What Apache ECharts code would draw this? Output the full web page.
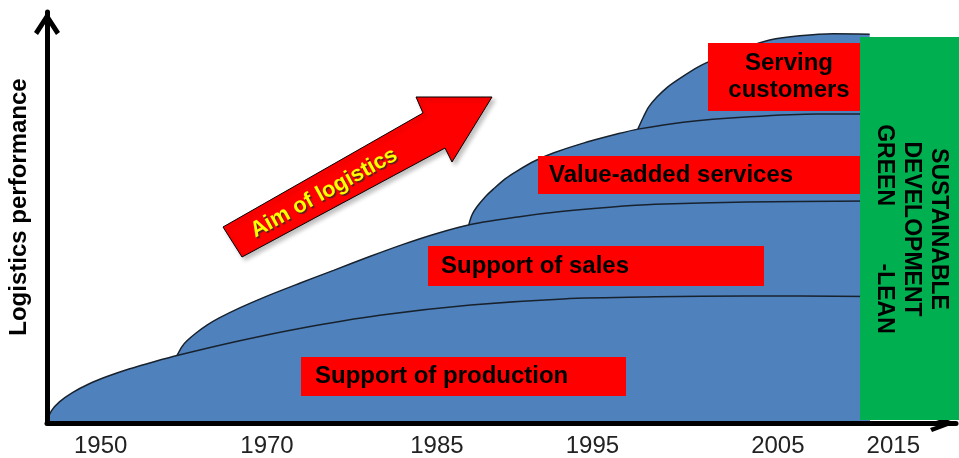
<!DOCTYPE html>
<html>
<head>
<meta charset="utf-8">
<title>Logistics performance</title>
<script src="https://cdn.jsdelivr.net/npm/echarts@6/dist/echarts.min.js"></script>
<style>
  html, body { margin: 0; padding: 0; background: #fff; }
  #chart { width: 959px; height: 458px; }
</style>
</head>
<body>
<div id="chart"></div>
<script>
// x = position on the time axis (0-100), y = logistics performance (0-100)
const productionCurve = [
  [0, 0.5], [0.5, 3.0], [1.4, 5.2], [2.8, 7.4], [4.6, 9.5], [6.6, 11.3], [9.1, 13.2],
  [11.3, 14.6], [14.3, 16.4], [21.2, 20.0], [27.8, 23.0], [36.6, 26.2], [46.6, 28.7],
  [56.8, 30.2], [66.9, 30.7], [77.0, 30.9], [90.5, 30.8]
]
const salesCurve = [
  [14.3, 16.4], [14.85, 18.6], [15.4, 20.0], [16.4, 21.9], [17.6, 23.8], [18.9, 25.5],
  [21.2, 28.0], [24.0, 30.7], [27.8, 34.0], [31.6, 37.2], [35.5, 40.5], [39.1, 43.4],
  [42.7, 46.0], [46.6, 48.3], [52.0, 50.2], [56.8, 51.5], [61.9, 52.5], [66.9, 53.2],
  [77.0, 53.8], [90.5, 54.0]
]
const valueAddedCurve = [
  [46.4, 48.2], [46.75, 50.6], [47.3, 52.6], [48.2, 55.0], [49.1, 56.9], [50.4, 59.4],
  [51.7, 61.3], [53.7, 63.8], [55.7, 65.7], [59.0, 68.1], [62.7, 70.3], [65.0, 71.5],
  [70.0, 73.2], [77.3, 74.5], [84.7, 75.2], [90.5, 75.2]
]
const servingCurve = [
  [65.0, 71.5], [65.3, 73.0], [65.6, 74.4], [66.2, 76.9], [67.1, 79.3], [68.3, 81.8],
  [70.0, 84.4], [71.6, 86.6], [72.7, 87.8], [75.1, 90.0], [77.3, 91.7], [79.5, 93.2],
  [82.8, 94.2], [86.5, 94.7], [90.5, 94.6]
]

const layerNames = ['Support of production', 'Support of sales', 'Value-added services', 'Serving customers']
const yearLabels = ['1950', '1970', '1985', '1995', '2005', '2015']
const yearPositions = [5.9, 24.2, 42.9, 60.0, 80.4, 93.1]

const FONT = '"Liberation Sans", Arial, sans-serif'
const curves = [productionCurve, salesCurve, valueAddedCurve, servingCurve]

// upper layers first so the lower ones never hide their outlines
let series = []
for (let i = curves.length - 1; i >= 0; i--) {
  series.push({
    name: layerNames[i],
    type: 'line',
    data: curves[i],
    smooth: 0.3,
    showSymbol: false,
    silent: true,
    lineStyle: { color: '#18222d', width: 1.5 },
    areaStyle: { color: '#4f81bd', opacity: 1 }
  })
}

function labelBox (x, y, w, h, text, tx, align) {
  return [
    { type: 'rect', z: 100, shape: { x: x, y: y, width: w, height: h }, style: { fill: '#ff0000' } },
    {
      type: 'text', z: 101, x: tx, y: y + h / 2,
      style: {
        text: text, fill: '#000', fontSize: 24, fontWeight: 'bold', fontFamily: FONT,
        align: align, verticalAlign: 'middle', lineHeight: 27
      }
    }
  ]
}

let myChart = echarts.init(document.getElementById('chart'))
myChart.setOption({
  backgroundColor: '#fff',
  animation: false,
  grid: { left: 47, right: 3, top: 12, bottom: 35, outerBoundsMode: 'none' },
  xAxis: {
    type: 'value',
    min: 0,
    max: 100,
    z: 10,
    splitLine: { show: false },
    axisTick: { show: false },
    axisLine: {
      onZero: false,
      lineStyle: { color: '#000', width: 5 },
      symbol: ['none', 'path://M9,0 L18,24 L14,26 L9,11 L4,26 L0,24 Z'],
      symbolSize: [18, 26],
      symbolOffset: [0, -13]
    },
    axisLabel: {
      customValues: yearPositions,
      margin: 11,
      color: '#222',
      fontSize: 24,
      fontFamily: FONT,
      formatter: function (v) {
        let i = yearPositions.indexOf(v)
        return i >= 0 ? yearLabels[i] : ''
      }
    }
  },
  yAxis: {
    type: 'value',
    min: 0,
    max: 100,
    z: 10,
    splitLine: { show: false },
    axisTick: { show: false },
    axisLabel: { show: false },
    axisLine: {
      show: true,
      lineStyle: { color: '#000', width: 5 },
      symbol: ['none', 'path://M13,0 L26,20 L22,23 L13,9 L4,23 L0,20 Z'],
      symbolSize: [26, 23],
      symbolOffset: [0, -11.5]
    }
  },
  series: series,
  graphic: [
    {
      type: 'text', z: 100, x: 19, y: 207, rotation: Math.PI / 2,
      style: {
        text: 'Logistics performance', fill: '#000', fontSize: 24, fontWeight: 'bold',
        fontFamily: FONT, align: 'center', verticalAlign: 'middle'
      }
    },
    // aim of logistics arrow
    {
      type: 'polygon', z: 100,
      shape: { points: [[223, 227], [423, 113], [416, 97], [492, 97], [452, 162], [445, 148], [242, 257]] },
      style: {
        fill: '#ff0000', stroke: '#000', lineWidth: 1,
        shadowColor: 'rgba(0,0,0,0.25)', shadowBlur: 4, shadowOffsetX: 3, shadowOffsetY: 3
      }
    },
    {
      type: 'text', z: 101, x: 324, y: 193, rotation: 0.504,
      style: {
        text: 'Aim of logistics', fill: '#ffff00', fontSize: 22, fontWeight: 'bold', fontFamily: FONT,
        align: 'center', verticalAlign: 'middle',
        textShadowColor: 'rgba(40,40,40,0.8)', textShadowBlur: 1, textShadowOffsetX: 1.5, textShadowOffsetY: 1.5
      }
    },
    ...labelBox(301, 357, 325, 39, layerNames[0], 315, 'left'),
    ...labelBox(428, 246, 336, 40, layerNames[1], 441, 'left'),
    ...labelBox(538, 156, 322, 38, layerNames[2], 549, 'left'),
    ...labelBox(708, 43, 152, 68, 'Serving\ncustomers', 789, 'center'),
    // green sustainability band
    { type: 'rect', z: 100, shape: { x: 860, y: 37, width: 99, height: 383 }, style: { fill: '#00b050' } },
    {
      type: 'text', z: 101, x: 911, y: 229, rotation: -Math.PI / 2,
      style: {
        text: 'SUSTAINABLE\nDEVELOPMENT\nGREEN         -LEAN', fill: '#000', fontSize: 23, fontWeight: 'bold',
        fontFamily: FONT, align: 'center', verticalAlign: 'middle', lineHeight: 27
      }
    }
  ]
})
</script>
</body>
</html>
